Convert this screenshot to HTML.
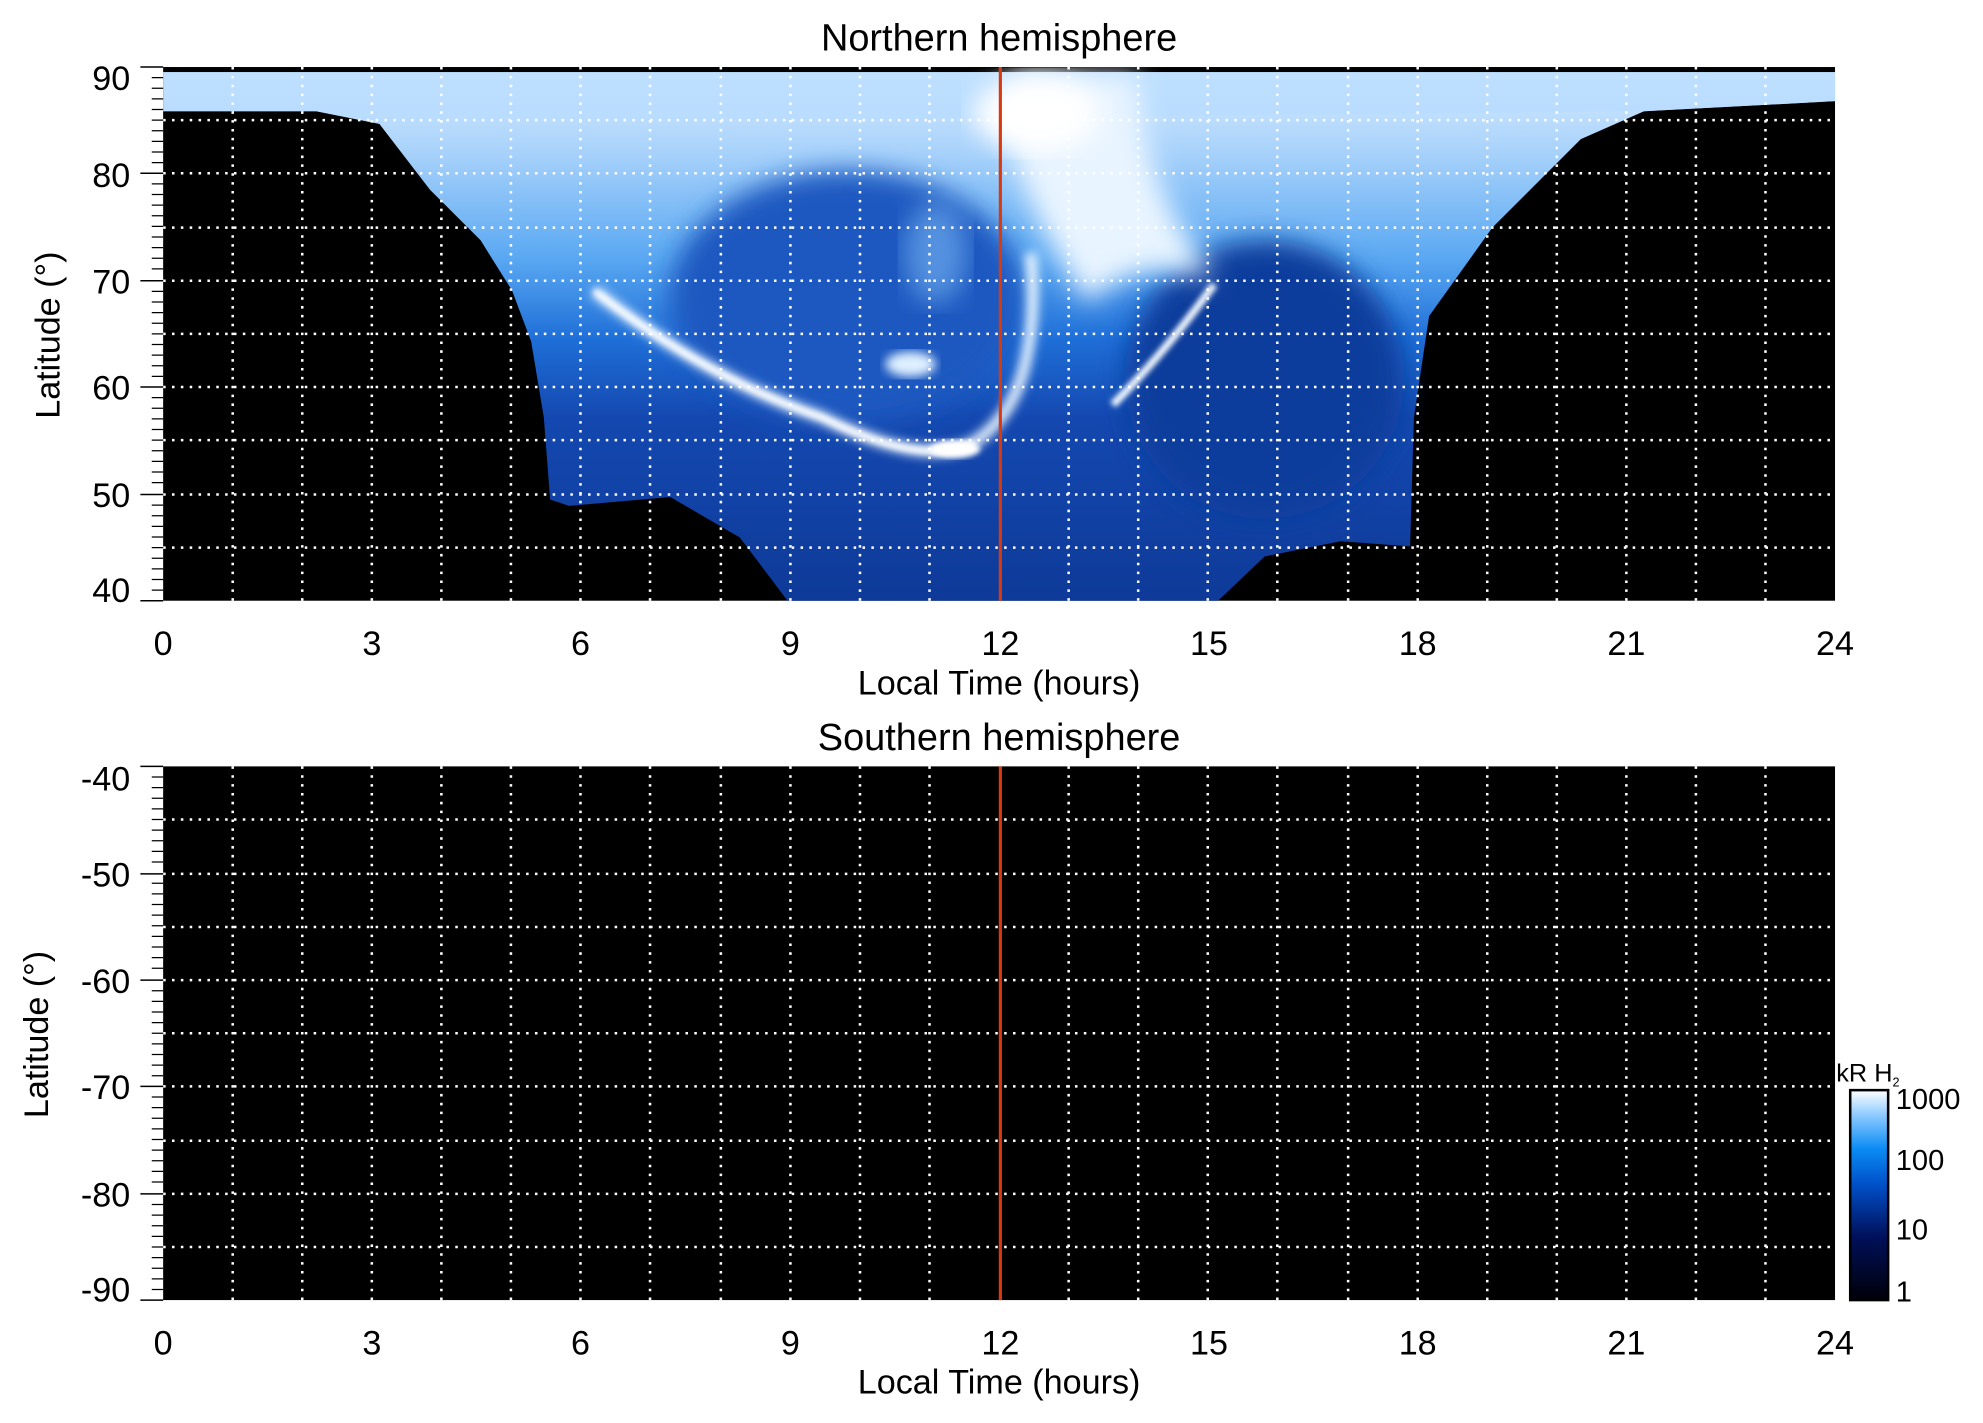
<!DOCTYPE html>
<html><head><meta charset="utf-8"><style>html,body{margin:0;padding:0;background:#fff}svg{display:block}</style></head>
<body>
<svg width="1983" height="1423" viewBox="0 0 1568 1125.2" xmlns="http://www.w3.org/2000/svg" font-family="Liberation Sans, sans-serif">
<defs>
<filter id="b4"><feGaussianBlur stdDeviation="4"/></filter>
<filter id="b8"><feGaussianBlur stdDeviation="10"/></filter>
<filter id="b2"><feGaussianBlur stdDeviation="2"/></filter>
<linearGradient id="gA" x1="0" y1="0" x2="0" y2="1">
<stop offset="0" stop-color="#d8ecff"/><stop offset="0.15" stop-color="#a8d2fb"/><stop offset="0.35" stop-color="#5aa8f2"/><stop offset="0.5" stop-color="#1f6fd8"/><stop offset="0.65" stop-color="#1448b0"/><stop offset="1" stop-color="#0e3a98"/>
</linearGradient>
<linearGradient id="cb" x1="0" y1="1" x2="0" y2="0">
<stop offset="0" stop-color="#000008"/><stop offset="0.3" stop-color="#00105a"/><stop offset="0.55" stop-color="#0050c8"/><stop offset="0.72" stop-color="#0a8cf5"/><stop offset="0.88" stop-color="#8ccaff"/><stop offset="1" stop-color="#ffffff"/>
</linearGradient>
<clipPath id="cpT"><rect x="129" y="53" width="1322" height="422"/></clipPath>
</defs>
<text x="790" y="40" font-size="30" text-anchor="middle">Northern hemisphere</text>
<text x="790" y="593" font-size="30" text-anchor="middle">Southern hemisphere</text>
<rect x="129" y="53" width="1322" height="422" fill="#000"/>
<g clip-path="url(#cpT)">
<path d="M129,88 L250,88 L300,98 L340,150 L380,190 L405,230 L420,270 L430,330 L435,395 L450,400 L530,393 L585,425 L625,478 L960,478 L1000,440 L1060,428 L1115,432 L1118,330 L1130,250 L1180,180 L1250,110 L1300,88 L1451,80 L1451,57 L129,57 Z" fill="url(#gA)"/>
<path d="M129,88 L250,88 L300,98 L1300,88 L1451,80 L1451,57 L129,57Z" fill="#b8dcff" opacity="0.8"/>
<ellipse cx="670" cy="235" rx="140" ry="100" fill="#1c58c0" filter="url(#b8)"/>
<ellipse cx="1000" cy="300" rx="110" ry="110" fill="#103e9c" filter="url(#b8)"/>
<path d="M800,60 L900,60 Q900,140 960,220 Q900,200 860,240 Q820,180 800,120Z" fill="#e8f4ff" filter="url(#b8)"/>
<ellipse cx="820" cy="90" rx="50" ry="30" fill="#ffffff" filter="url(#b8)"/>
<path d="M470,230 Q560,300 650,330 Q730,370 770,350 Q800,330 810,290 Q820,250 815,200" stroke="#e8f4ff" stroke-width="9" fill="none" filter="url(#b4)"/>
<path d="M470,230 Q560,300 650,330 Q730,370 770,350" stroke="#fff" stroke-width="4" fill="none" filter="url(#b2)"/>
<path d="M880,320 Q920,280 960,225" stroke="#f4faff" stroke-width="6" fill="none" filter="url(#b2)"/>
<ellipse cx="720" cy="288" rx="20" ry="10" fill="#dff0ff" filter="url(#b4)"/>
<ellipse cx="755" cy="355" rx="20" ry="7" fill="#fff" filter="url(#b2)"/>
<ellipse cx="740" cy="200" rx="25" ry="40" fill="#7ab8f5" filter="url(#b8)" opacity="0.6"/>
</g>
<rect x="129" y="606" width="1322" height="422" fill="#000"/>
<g stroke="#fff" stroke-width="2" stroke-dasharray="2,5" fill="none">
<path d="M184,53V475M239,53V475M294,53V475M349,53V475M404,53V475M459,53V475M514,53V475M570,53V475M625,53V475M680,53V475M735,53V475M845,53V475M900,53V475M955,53V475M1010,53V475M1066,53V475M1121,53V475M1176,53V475M1231,53V475M1286,53V475M1341,53V475M1396,53V475"/>
<path d="M129,95H1451M129,137H1451M129,180H1451M129,222H1451M129,264H1451M129,306H1451M129,348H1451M129,391H1451M129,433H1451"/>
<path d="M184,606V1028M239,606V1028M294,606V1028M349,606V1028M404,606V1028M459,606V1028M514,606V1028M570,606V1028M625,606V1028M680,606V1028M735,606V1028M845,606V1028M900,606V1028M955,606V1028M1010,606V1028M1066,606V1028M1121,606V1028M1176,606V1028M1231,606V1028M1286,606V1028M1341,606V1028M1396,606V1028"/>
<path d="M129,648H1451M129,691H1451M129,733H1451M129,775H1451M129,817H1451M129,859H1451M129,902H1451M129,944H1451M129,986H1451"/>
</g>
<path d="M791,53V475M791,606V1028" stroke="#d83a10" stroke-width="2.5"/>
<g stroke="#000" stroke-width="1.2">
<path d="M111,53H129M111,137H129M111,222H129M111,306H129M111,391H129M111,475H129"/>
<path d="M111,606H129M111,691H129M111,775H129M111,859H129M111,944H129M111,1028H129"/>
</g>
<g stroke="#000" stroke-width="1">
<path d="M120,61.4H129M120,69.8H129M120,78.2H129M120,86.6H129M120,95H129M120,103.4H129M120,111.8H129M120,120.2H129M120,128.6H129M120,145.4H129M120,153.8H129M120,162.2H129M120,170.6H129M120,179H129M120,187.4H129M120,195.8H129M120,204.2H129M120,212.6H129M120,230.4H129M120,238.8H129M120,247.2H129M120,255.6H129M120,264H129M120,272.4H129M120,280.8H129M120,289.2H129M120,297.6H129M120,314.4H129M120,322.8H129M120,331.2H129M120,339.6H129M120,348H129M120,356.4H129M120,364.8H129M120,373.2H129M120,381.6H129M120,399.4H129M120,407.8H129M120,416.2H129M120,424.6H129M120,433H129M120,441.4H129M120,449.8H129M120,458.2H129M120,466.6H129"/>
<path transform="translate(0,553)" d="M120,61.4H129M120,69.8H129M120,78.2H129M120,86.6H129M120,95H129M120,103.4H129M120,111.8H129M120,120.2H129M120,128.6H129M120,145.4H129M120,153.8H129M120,162.2H129M120,170.6H129M120,179H129M120,187.4H129M120,195.8H129M120,204.2H129M120,212.6H129M120,230.4H129M120,238.8H129M120,247.2H129M120,255.6H129M120,264H129M120,272.4H129M120,280.8H129M120,289.2H129M120,297.6H129M120,314.4H129M120,322.8H129M120,331.2H129M120,339.6H129M120,348H129M120,356.4H129M120,364.8H129M120,373.2H129M120,381.6H129M120,399.4H129M120,407.8H129M120,416.2H129M120,424.6H129M120,433H129M120,441.4H129M120,449.8H129M120,458.2H129M120,466.6H129"/>
</g>
<g font-size="27" text-anchor="end">
<text x="103" y="71">90</text><text x="103" y="148">80</text><text x="103" y="232">70</text><text x="103" y="316">60</text><text x="103" y="401">50</text><text x="103" y="476">40</text>
<text x="103" y="625">-40</text><text x="103" y="701">-50</text><text x="103" y="785">-60</text><text x="103" y="869">-70</text><text x="103" y="954">-80</text><text x="103" y="1029">-90</text>
</g>
<g font-size="27" text-anchor="middle">
<text x="129" y="518">0</text><text x="294" y="518">3</text><text x="459" y="518">6</text><text x="625" y="518">9</text><text x="791" y="518">12</text><text x="956" y="518">15</text><text x="1121" y="518">18</text><text x="1286" y="518">21</text><text x="1451" y="518">24</text>
<text x="790" y="549">Local Time (hours)</text>
<text x="129" y="1071">0</text><text x="294" y="1071">3</text><text x="459" y="1071">6</text><text x="625" y="1071">9</text><text x="791" y="1071">12</text><text x="956" y="1071">15</text><text x="1121" y="1071">18</text><text x="1286" y="1071">21</text><text x="1451" y="1071">24</text>
<text x="790" y="1102">Local Time (hours)</text>
</g>
<text transform="translate(47,265) rotate(-90)" font-size="27" text-anchor="middle">Latitude (°)</text>
<text transform="translate(38,818) rotate(-90)" font-size="27" text-anchor="middle">Latitude (°)</text>
<rect x="1463" y="862" width="30" height="166" fill="url(#cb)" stroke="#000" stroke-width="2"/>
<text x="1452" y="855" font-size="20">kR H<tspan font-size="10" dy="4">2</tspan></text>
<g font-size="23"><text x="1499" y="877">1000</text><text x="1499" y="925">100</text><text x="1499" y="980">10</text><text x="1499" y="1029">1</text></g>
</svg>
</body></html>
